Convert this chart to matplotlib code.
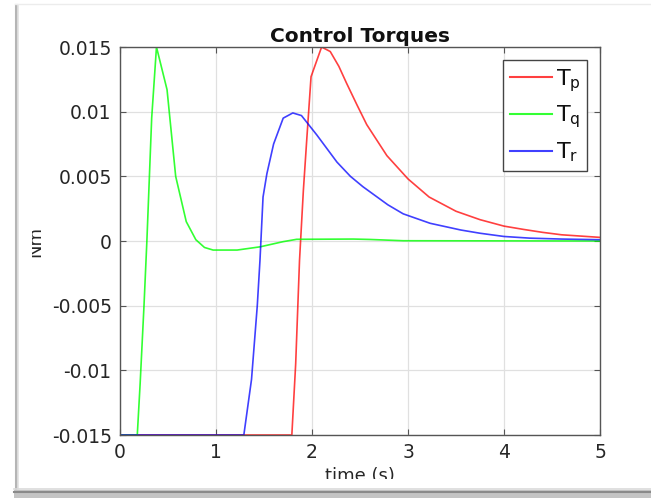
import matplotlib
matplotlib.use("Agg")
import matplotlib.pyplot as plt
from matplotlib.lines import Line2D
from matplotlib.patches import Rectangle

# ---- data ----
t_p = [0.0, 1.79, 1.83, 1.87, 1.91, 1.945, 1.99, 2.10, 2.19, 2.28, 2.36, 2.47, 2.57,
       2.78, 3.00, 3.22, 3.50, 3.75, 4.00, 4.20, 4.40, 4.60, 5.00]
T_p = [-0.015, -0.015, -0.0095, -0.0015, 0.0039, 0.0078, 0.0127, 0.0150, 0.01465,
       0.0135, 0.0122, 0.0105, 0.0090, 0.0066, 0.0048, 0.0034, 0.0023, 0.00165,
       0.00115, 0.0009, 0.00067, 0.00048, 0.00028]

t_q = [0.0, 0.18, 0.21, 0.25, 0.28, 0.33, 0.38, 0.49, 0.58, 0.69, 0.79, 0.88,
       0.97, 1.22, 1.46, 1.70, 1.84, 2.43, 2.60, 2.95, 5.00]
T_q = [-0.015, -0.015, -0.011, -0.005, 0.0, 0.0095, 0.0150, 0.0117, 0.0050,
       0.0015, 0.0001, -0.0005, -0.0007, -0.0007, -0.00045, -0.00005, 0.00013,
       0.00015, 0.00012, 0.00002, 0.0]

t_r = [0.0, 1.29, 1.37, 1.43, 1.458, 1.49, 1.53, 1.60, 1.70, 1.80, 1.89, 2.05,
       2.26, 2.40, 2.53, 2.79, 2.95, 3.23, 3.55, 3.75, 4.00, 4.27, 4.60, 5.00]
T_r = [-0.015, -0.015, -0.0107, -0.005, -0.0015, 0.0034, 0.0052, 0.0075, 0.0095,
       0.0099, 0.0097, 0.0082, 0.0061, 0.0050, 0.0042, 0.0028, 0.0021, 0.00137,
       0.00085, 0.0006, 0.00035, 0.00022, 0.00015, 0.0001]

series_labels = [r"T$_\mathrm{p}$", r"T$_\mathrm{q}$", r"T$_\mathrm{r}$"]
x_ticks = [0, 1, 2, 3, 4, 5]
y_ticks = [-0.015, -0.01, -0.005, 0, 0.005, 0.01, 0.015]
y_ticklabels = ["-0.015", "-0.01", "-0.005", "0", "0.005", "0.01", "0.015"]

W, H = 651, 498
fig = plt.figure(figsize=(W / 100, H / 100), dpi=100)
fig.patch.set_facecolor("white")

ax = fig.add_axes([120 / W, (H - 435) / H, 480 / W, 388 / H])
tick_col = "#262626"
ax.plot(t_p, T_p, color="#ff0000", lw=1.2, alpha=0.75, label=series_labels[0])
ax.plot(t_q, T_q, color="#00ff00", lw=1.2, alpha=0.8, label=series_labels[1])
ax.plot(t_r, T_r, color="#0000ff", lw=1.2, alpha=0.75, label=series_labels[2])

ax.set_xlim(0, 5)
ax.set_ylim(-0.015, 0.015)
ax.set_xticks(x_ticks)
ax.set_xticklabels([str(v) for v in x_ticks])
ax.set_yticks(y_ticks)
ax.set_yticklabels(y_ticklabels)
ax.tick_params(direction="in", length=4, width=0.8, colors="#555555",
               labelcolor=tick_col, labelsize=13.5, top=True, right=True, pad=6)
ax.grid(True, color="#e0e0e0", lw=0.9)
ax.set_axisbelow(True)
for s in ax.spines.values():
    s.set_color("#555555")
    s.set_linewidth(1.0)

ax.set_title("Control Torques", fontsize=14.5, fontweight="bold", color="#111111", pad=3.5)

leg = ax.legend(loc="upper right", bbox_to_anchor=(0.973, 0.966), borderaxespad=0,
                fontsize=16, fancybox=False, framealpha=1, edgecolor="#444444",
                handlelength=1.9, handletextpad=0.15, labelspacing=0.45,
                borderpad=0.3)
leg.get_frame().set_linewidth(1.0)
for txt in leg.get_texts():
    txt.set_color("#111111")
for ln in leg.get_lines():
    ln.set_linewidth(1.5)

# axis labels (cropped in the reference)
fig.text(35 / W, (H - 241) / H, "Nm", rotation=90, ha="center", va="center",
         fontsize=13, color=tick_col, zorder=3)
fig.text(360 / W, (H - 467) / H, "time (s)", ha="center", va="top",
         fontsize=13, color=tick_col, zorder=3)
# white crop masks
fig.add_artist(Rectangle((0, 0), 32 / W, 1, transform=fig.transFigure,
                         facecolor="white", edgecolor="none", zorder=5))
fig.add_artist(Rectangle((0, 0), 1, (H - 479) / H, transform=fig.transFigure,
                         facecolor="white", edgecolor="none", zorder=5))

# screenshot frame
kw = dict(zorder=6)
fig.add_artist(Line2D([15.5 / W, 15.5 / W], [8 / H, (H - 5) / H], color="#b5b5b5", lw=2.2, **kw))
fig.add_artist(Line2D([17.5 / W, 17.5 / W], [8 / H, (H - 5) / H], color="#e2e2e2", lw=1.2, **kw))
fig.add_artist(Line2D([15 / W, 1], [(H - 4) / H, (H - 4) / H], color="#ececec", lw=1.0, **kw))
fig.add_artist(Rectangle((14 / W, 0), 1, 8 / H, transform=fig.transFigure,
                         facecolor="#c4c4c4", edgecolor="none", **kw))
fig.add_artist(Line2D([14 / W, 1], [6 / H, 6 / H], color="#8a8a8a", lw=1.5, **kw))
fig.add_artist(Line2D([14 / W, 1], [9 / H, 9 / H], color="#dadada", lw=1.2, **kw))

fig.savefig("out.png", dpi=100)
